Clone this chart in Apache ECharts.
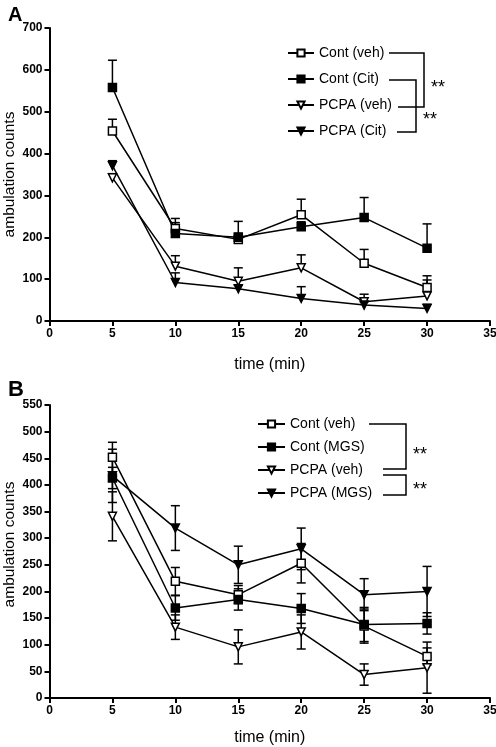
<!DOCTYPE html>
<html><head><meta charset="utf-8">
<script src="https://cdn.jsdelivr.net/npm/echarts@6/dist/echarts.min.js"></script>
<style>html,body{margin:0;padding:0;background:#fff}#c{width:496px;height:747px}</style>
</head><body><div id="c"></div>
<script>
var time = [5, 10, 15, 20, 25, 30];
var xTicks = [0, 5, 10, 15, 20, 25, 30, 35];

// Panel A
var namesA = ['Cont (veh)', 'Cont (Cit)', 'PCPA (veh)', 'PCPA (Cit)'];
var contVehA = [454, 221, 195, 254, 138, 80];
var contVehA_err = [28, 24, 15, 37, 33, 28];
var contCitA = [558, 209, 200, 225, 247, 174];
var contCitA_err = [65, 26, 38, 12, 48, 58];
var pcpaVehA = [342, 131, 95, 127, 46, 60];
var pcpaVehA_err = [10, 25, 32, 31, 18, 38];
var pcpaCitA = [371, 92, 77, 54, 38, 30];
var pcpaCitA_err = [12, 23, 8, 28, 8, 10];

// Panel B
var namesB = ['Cont (veh)', 'Cont (MGS)', 'PCPA (veh)', 'PCPA (MGS)'];
var contVehB = [452, 219, 194, 253, 135, 78];
var contVehB_err = [28, 26, 17, 37, 32, 16];
var contMgsB = [413, 169, 185, 168, 138, 140];
var contMgsB_err = [20, 23, 20, 28, 32, 20];
var pcpaVehB = [341, 133, 96, 124, 44, 57];
var pcpaVehB_err = [46, 23, 32, 32, 20, 48];
var pcpaMgsB = [417, 319, 250, 280, 194, 200];
var pcpaMgsB_err = [50, 42, 35, 39, 30, 47];

var FONT = 'Liberation Sans, Arial, sans-serif';
var chart = echarts.init(document.getElementById('c'));

function pairs(v) { return time.map(function (t, i) { return [t, v[i]]; }); }
function triples(v, e) { return time.map(function (t, i) { return [t, v[i], e[i]]; }); }

function errRender(twoSided) {
  return function (params, api) {
    var x = api.value(0), v = api.value(1), e = api.value(2);
    var top = api.coord([x, v + e]);
    var bot = api.coord([x, twoSided ? v - e : v]);
    var w = 4.5;
    var st = { stroke: '#000', lineWidth: 1.5 };
    var ch = [
      { type: 'line', shape: { x1: top[0], y1: top[1], x2: bot[0], y2: bot[1] }, style: st },
      { type: 'line', shape: { x1: top[0] - w, y1: top[1], x2: top[0] + w, y2: top[1] }, style: st }
    ];
    if (twoSided) ch.push({ type: 'line', shape: { x1: bot[0] - w, y1: bot[1], x2: bot[0] + w, y2: bot[1] }, style: st });
    return { type: 'group', children: ch };
  };
}

var styles = [
  { symbol: 'rect', rotate: 0, fill: '#fff' },
  { symbol: 'rect', rotate: 0, fill: '#000' },
  { symbol: 'triangle', rotate: 180, fill: '#fff' },
  { symbol: 'triangle', rotate: 180, fill: '#000' }
];

function lineSeries(name, vals, idx, k) {
  var s = styles[k];
  return {
    type: 'line', name: name, xAxisIndex: idx, yAxisIndex: idx, data: pairs(vals),
    symbol: s.symbol, symbolRotate: s.rotate, symbolSize: 8, z: 5,
    lineStyle: { color: '#000', width: 1.5 },
    itemStyle: { color: s.fill, borderColor: '#000', borderWidth: 1.5 },
    emphasis: { disabled: true }, animation: false
  };
}
function errSeries(vals, errs, idx, two) {
  return {
    type: 'custom', xAxisIndex: idx, yAxisIndex: idx, data: triples(vals, errs),
    renderItem: errRender(two), z: 3, animation: false, silent: true
  };
}

function xAxis(idx, gap) {
  return {
    type: 'value', gridIndex: idx, min: 0, max: 35, interval: 5,
    name: 'time (min)', nameLocation: 'middle', nameGap: gap, nameMoveOverlap: false,
    nameTextStyle: { fontFamily: FONT, fontSize: 16, color: '#000' },
    axisLine: { lineStyle: { color: '#000', width: 2 } },
    axisTick: { show: true, length: 5, lineStyle: { color: '#000', width: 2 } },
    axisLabel: { fontFamily: FONT, fontSize: 12, fontWeight: 'bold', color: '#000', margin: 7 },
    splitLine: { show: false }
  };
}
function yAxis(idx, max, interval, pad) {
  return {
    type: 'value', gridIndex: idx, min: 0, max: max, interval: interval,
    name: 'ambulation counts', nameLocation: 'middle', nameGap: 32, nameRotate: 90, nameMoveOverlap: false,
    nameTextStyle: { fontFamily: FONT, fontSize: 15.5, color: '#000', padding: pad },
    axisLine: { show: true, lineStyle: { color: '#000', width: 2 } },
    axisTick: { show: true, length: 5, lineStyle: { color: '#000', width: 2 } },
    axisLabel: { fontFamily: FONT, fontSize: 12, fontWeight: 'bold', color: '#000', margin: 7 },
    splitLine: { show: false }
  };
}

function bracket(points) {
  return { type: 'polyline', shape: { points: points }, style: { stroke: '#000', lineWidth: 1.5, fill: null } };
}
function stars(x, y) {
  return { type: 'text', x: x, y: y, style: { text: '**', font: '18px ' + FONT, fill: '#000', textVerticalAlign: 'middle' } };
}

chart.setOption({
  animation: false,
  backgroundColor: '#fff',
  title: [
    { text: 'A', left: 3, top: 0, textStyle: { fontFamily: FONT, fontSize: 20, fontWeight: 'bold', color: '#000' } },
    { text: 'B', left: 3, top: 374, textStyle: { fontFamily: FONT, fontSize: 22, fontWeight: 'bold', color: '#000' } }
  ],
  grid: [
    { left: 49.5, right: 6, top: 28, height: 293, containLabel: false, outerBoundsMode: 'none' },
    { left: 49.5, right: 6, top: 405, height: 293, containLabel: false, outerBoundsMode: 'none' }
  ],
  xAxis: [xAxis(0, 36), xAxis(1, 32)],
  yAxis: [yAxis(0, 700, 100, [0, 0, 0, 0]), yAxis(1, 550, 50, [0, 0, 0, 14])],
  legend: [
    { data: namesA, orient: 'vertical', left: 287, top: 45, padding: 0, itemWidth: 26, itemHeight: 9, itemGap: 10,
      textStyle: { fontFamily: FONT, fontSize: 14, color: '#000', lineHeight: 16 }, selectedMode: false },
    { data: namesB, orient: 'vertical', left: 257, top: 416, padding: 0, itemWidth: 27, itemHeight: 9, itemGap: 7,
      textStyle: { fontFamily: FONT, fontSize: 14, color: '#000', lineHeight: 16 }, selectedMode: false }
  ],
  graphic: [
    bracket([[389, 53], [424, 53], [424, 107], [398, 107]]),
    bracket([[389, 80], [416, 80], [416, 132], [397, 132]]),
    stars(431, 88), stars(423, 120),
    bracket([[369, 424], [406, 424], [406, 469], [383, 469]]),
    bracket([[383, 475], [406, 475], [406, 495], [383, 495]]),
    stars(413, 455), stars(413, 490)
  ],
  series: [
    errSeries(contVehA, contVehA_err, 0, false),
    errSeries(contCitA, contCitA_err, 0, false),
    errSeries(pcpaVehA, pcpaVehA_err, 0, false),
    errSeries(pcpaCitA, pcpaCitA_err, 0, false),
    lineSeries(namesA[0], contVehA, 0, 0),
    lineSeries(namesA[1], contCitA, 0, 1),
    lineSeries(namesA[2], pcpaVehA, 0, 2),
    lineSeries(namesA[3], pcpaCitA, 0, 3),
    errSeries(contVehB, contVehB_err, 1, true),
    errSeries(contMgsB, contMgsB_err, 1, true),
    errSeries(pcpaVehB, pcpaVehB_err, 1, true),
    errSeries(pcpaMgsB, pcpaMgsB_err, 1, true),
    lineSeries(namesB[0], contVehB, 1, 0),
    lineSeries(namesB[1], contMgsB, 1, 1),
    lineSeries(namesB[2], pcpaVehB, 1, 2),
    lineSeries(namesB[3], pcpaMgsB, 1, 3)
  ]
});
</script></body></html>
